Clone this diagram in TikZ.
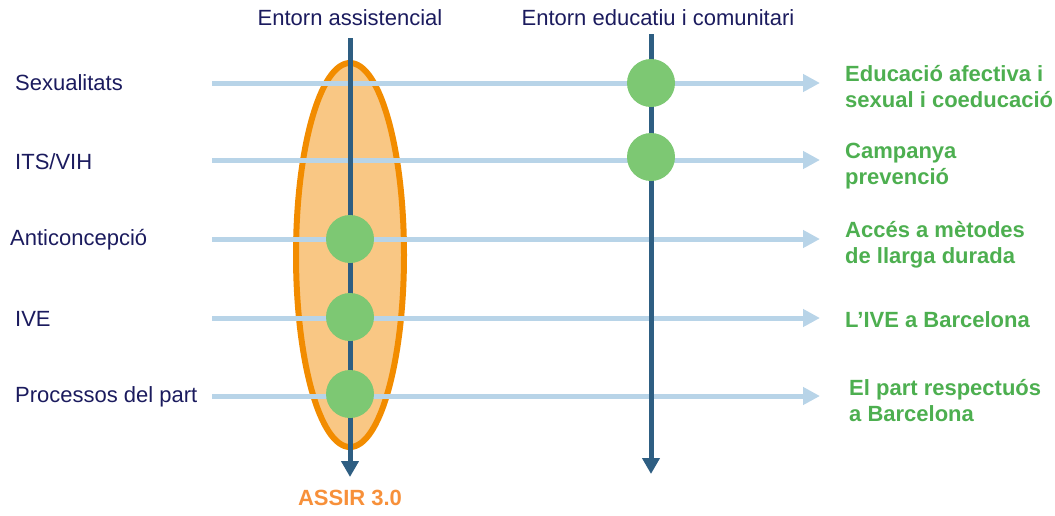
\documentclass[tikz,border=0pt]{standalone}
\usepackage{fontspec}
\setmainfont{Liberation Sans}
\usetikzlibrary{arrows.meta}
\definecolor{navy}{HTML}{1B1B5E}
\definecolor{hline}{HTML}{B8D4E8}
\definecolor{vline}{HTML}{2E5E82}
\definecolor{ellfill}{HTML}{F9C784}
\definecolor{ellline}{HTML}{F28C00}
\definecolor{dotgreen}{HTML}{7DC873}
\definecolor{txtgreen}{HTML}{4DAF50}
\definecolor{assir}{HTML}{F7903A}
\tikzset{
  hrow/.style={draw=hline, line width=5pt, -{Triangle[width=17pt,length=17pt]}},
  vaxis/.style={draw=vline, line width=5pt, -{Triangle[width=17pt,length=16pt]}},
  dot/.style={circle, fill=dotgreen, minimum size=48pt, inner sep=0pt},
  lefttxt/.style={anchor=west, text=navy, font=\fontsize{22}{26}\selectfont, inner sep=0pt},
  toptxt/.style={text=navy, font=\fontsize{22}{26}\selectfont, inner sep=0pt},
  righttxt/.style={anchor=west, text=txtgreen, font=\bfseries\fontsize{22}{26}\selectfont, align=left, inner sep=0pt},
}
\begin{document}
\begin{tikzpicture}[x=1pt,y=-1pt]
\useasboundingbox (0,0) rectangle (1055,515);
% ellipse
\draw[fill=ellfill, draw=ellline, line width=6pt] (350,255) ellipse [x radius=54, y radius=192];
% horizontal rows
\foreach \n/\y in {1/83,2/160,3/239,4/318,5/396}{
  \coordinate (hs\n) at (212,\y);
  \coordinate (he\n) at (820,\y);
  \draw[hrow] (hs\n) -- (he\n);
}
% vertical axes
\coordinate (v1s) at (350,38);
\coordinate (v1e) at (350,477);
\coordinate (v2s) at (651,34);
\coordinate (v2e) at (651,474);
\draw[vaxis] (v1s) -- (v1e);
\draw[vaxis] (v2s) -- (v2e);
% dots
\node[dot] (d1) at (651,83) {};
\node[dot] (d2) at (651,157) {};
\node[dot] (d3) at (350,239) {};
\node[dot] (d4) at (350,317) {};
\node[dot] (d5) at (350,394) {};
% top labels
\node[toptxt] (t1) at (350,18) {Entorn assistencial};
\node[toptxt] (t2) at (658,18) {Entorn educatiu i comunitari};
% left labels
\node[lefttxt] (l1) at (15,83) {Sexualitats};
\node[lefttxt] (l2) at (15,162) {ITS/VIH};
\node[lefttxt] (l3) at (10,240) {Anticoncepció};
\node[lefttxt] (l4) at (15,319) {IVE};
\node[lefttxt] (l5) at (15,397) {Processos del part};
% right labels
\node[righttxt] (r1) at (845,87) {Educació afectiva i\\sexual i coeducació};
\node[righttxt] (r2) at (845,166) {Campanya\\prevenció};
\node[righttxt] (r3) at (845,245) {Accés a mètodes\\de llarga durada};
\node[righttxt] (r4) at (845,320) {L’IVE a Barcelona};
\node[righttxt] (r5) at (849,401) {El part respectuós\\a Barcelona};
% bottom label
\node[text=assir, font=\bfseries\fontsize{22}{26}\selectfont, inner sep=0pt] (as) at (350,498) {ASSIR 3.0};
\end{tikzpicture}
\end{document}
